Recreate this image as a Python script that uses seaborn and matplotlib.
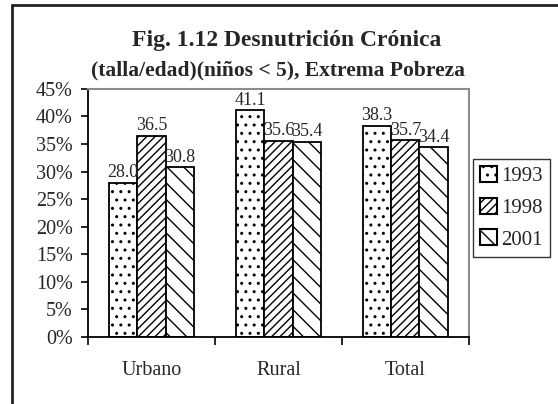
import pandas as pd
import matplotlib.pyplot as plt
import matplotlib.patches as mpatches
from matplotlib.lines import Line2D
import seaborn as sns

# data
categories = ['Urbano', 'Rural', 'Total']
years = ['1993', '1998', '2001']
values_1993 = [28.0, 41.1, 38.3]
values_1998 = [36.5, 35.6, 35.7]
values_2001 = [30.8, 35.4, 34.4]
y_ticks = [0, 5, 10, 15, 20, 25, 30, 35, 40, 45]

HATCHES = {'1993': '..', '1998': '////', '2001': '\\\\'}

sns.set_style('white')
plt.rcParams['font.family'] = ['Liberation Serif', 'DejaVu Serif']
plt.rcParams['hatch.linewidth'] = 1.0
plt.rcParams['hatch.color'] = 'black'

df = pd.DataFrame({
    'Categoria': categories * 3,
    'Año': [y for y in years for _ in categories],
    'Valor': values_1993 + values_1998 + values_2001,
})

fig = plt.figure(figsize=(5.58, 4.04), dpi=100)
ax = fig.add_axes([0.158, 0.166, 0.682, 0.614])

sns.barplot(data=df, x='Categoria', y='Valor', hue='Año', order=categories,
            hue_order=years, palette=['white'] * 3, width=0.67,
            edgecolor='black', linewidth=1.3, saturation=1, ax=ax, legend=False)

for cont, yr in zip(ax.containers, years):
    for bar in cont:
        bar.set_hatch(HATCHES[yr])
        bar.set_facecolor('white')
    ax.bar_label(cont, fmt='%.1f', fontsize=13, padding=1)

ax.set_ylim(0, 45)
ax.set_xlim(-0.5, 2.5)
ax.set_yticks(y_ticks)
ax.set_yticklabels([f'{v}%' for v in y_ticks])
ax.set_xlabel('')
ax.set_ylabel('')

# category separators as minor ticks
ax.set_xticks([-0.5, 0.5, 1.5, 2.5], minor=True)
ax.tick_params(axis='x', which='major', length=0, pad=17, labelsize=14.5)
ax.tick_params(axis='x', which='minor', length=6, width=1.2, color='black',
               direction='out', bottom=True)
ax.tick_params(axis='y', length=5, width=1.2, color='black', direction='out',
               left=True, pad=6, labelsize=14.5)

for side in ['left', 'bottom']:
    ax.spines[side].set_color('black')
    ax.spines[side].set_linewidth(1.3)
for side in ['top', 'right']:
    ax.spines[side].set_color('#8c8c8c')
    ax.spines[side].set_linewidth(1.5)

# legend
handles = [mpatches.Patch(facecolor='white', edgecolor='black', hatch=HATCHES[y],
                          linewidth=1.5, label=y)
           for y in years]
leg = fig.legend(handles=handles, loc='lower left', bbox_to_anchor=(0.848, 0.364),
                 bbox_transform=fig.transFigure, borderaxespad=0, fontsize=15,
                 frameon=True, fancybox=False, edgecolor='black',
                 handlelength=0.8, handleheight=0.8, handletextpad=0.2,
                 labelspacing=0.55, borderpad=0.35)
leg.get_frame().set_linewidth(1.0)

# title
fig.text(0.513, 0.886, 'Fig. 1.12 Desnutrición Crónica', ha='center', va='baseline',
         fontsize=17, fontweight='bold')
fig.text(0.498, 0.812, '(talla/edad)(niños < 5), Extrema Pobreza', ha='center',
         va='baseline', fontsize=15.5, fontweight='bold')

# outer frame (only top and left edges visible)
fig.add_artist(Line2D([12 / 558, 1.0], [1 - 5 / 404, 1 - 5 / 404], color='#222222',
                      linewidth=2, transform=fig.transFigure))
fig.add_artist(Line2D([12 / 558, 12 / 558], [0, 1 - 5 / 404], color='#222222',
                      linewidth=2, transform=fig.transFigure))

fig.savefig('out.png', dpi=100)
